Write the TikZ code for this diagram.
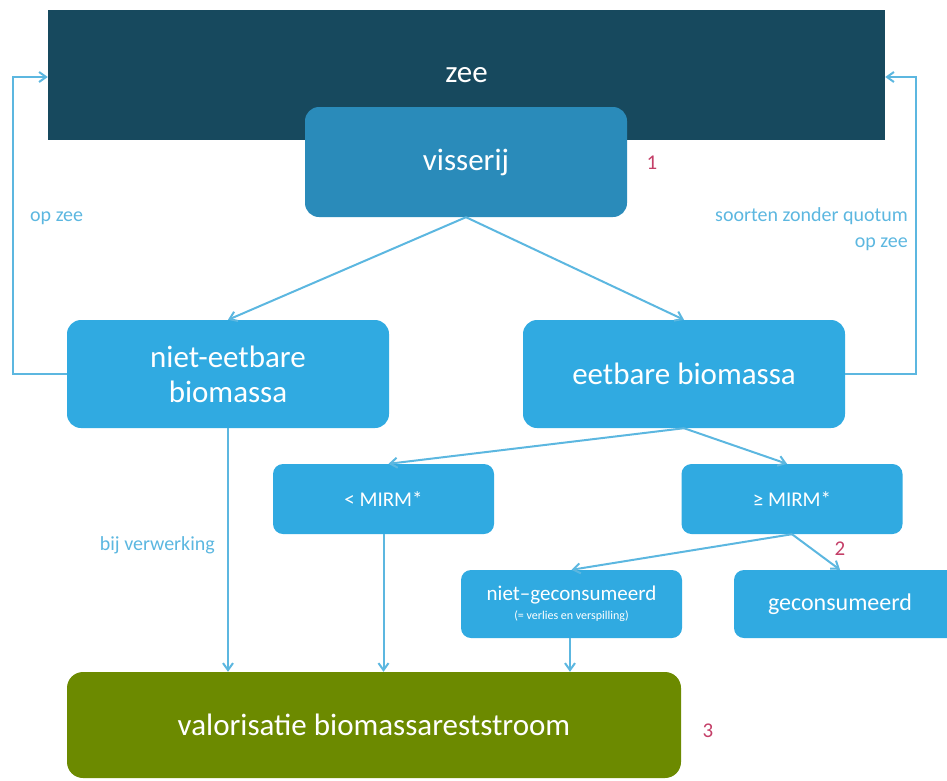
\documentclass[tikz,border=0pt]{standalone}
\usepackage{fontspec}
\setmainfont{Carlito}
\usetikzlibrary{shapes,arrows.meta,positioning}
\definecolor{zeeblauw}{HTML}{17495E}
\definecolor{visblauw}{HTML}{2A8BBA}
\definecolor{lichtblauw}{HTML}{30AAE1}
\definecolor{lijnblauw}{HTML}{5CB7E0}
\definecolor{olijf}{HTML}{6C8A00}
\definecolor{nummerrood}{HTML}{C43F68}

\begin{document}
\begin{tikzpicture}[x=1pt,y=-1pt,
  blok/.style={rectangle,rounded corners=14pt,fill=lichtblauw,text=white,inner sep=0pt,
    minimum width=322pt,minimum height=108pt,align=center,font=\fontsize{31}{35}\selectfont},
  klein/.style={blok,rounded corners=10pt,minimum width=221pt,minimum height=70pt,
    font=\fontsize{21}{24}\selectfont},
  pijl/.style={draw=lijnblauw,line width=2pt,-{Straight Barb[length=7pt,width=10pt]}},
  lijntekst/.style={text=lijnblauw,font=\fontsize{20}{26}\selectfont,inner sep=0pt},
  nummer/.style={text=nummerrood,font=\fontsize{21}{24}\selectfont,inner sep=0pt}]
\clip (0,0) rectangle (947,780);
% Zee en visserij
\node[rectangle,fill=zeeblauw,text=white,minimum width=837pt,minimum height=130pt,
  inner sep=0pt,font=\fontsize{31}{35}\selectfont] (zee) at (466.5,75) {zee};
\node[blok,fill=visblauw,minimum height=110pt] (visserij) at (466,162) {visserij};
\node[nummer] (een) at (652,163) {1};
% Biomassa
\node[blok] (nieteetbaar) at (228,374) {niet-eetbare\\biomassa};
\node[blok] (eetbaar) at (684,374) {eetbare biomassa};
\node[klein] (onder) at (383.5,499) {< MIRM*};
\node[klein] (boven) at (792,499) {≥ MIRM*};
\node[klein,minimum height=68pt] (nietgecons) at (571.5,604)
  {niet–geconsumeerd\\[-5pt]{\fontsize{12}{14}\selectfont (= verlies en verspilling)}};
\node[klein,minimum width=230pt,minimum height=68pt,font=\fontsize{24}{28}\selectfont]
  (gecons) at (849,604) {\hspace*{-18pt}geconsumeerd};
\node[nummer] (twee) at (840,549) {2};
% Valorisatie
\node[blok,fill=olijf,rounded corners=16pt,minimum width=614pt,minimum height=106pt]
  (valor) at (374,725) {valorisatie biomassareststroom};
\node[nummer] (drie) at (708,731) {3};
% Pijlen
\draw[pijl] (visserij.south) -- (nieteetbaar.north);
\draw[pijl] (visserij.south) -- (eetbaar.north);
\draw[pijl] (eetbaar.south) -- ([xshift=5pt]onder.north);
\draw[pijl] (eetbaar.south) -- ([xshift=-5pt]boven.north);
\draw[pijl] (boven.south) -- (nietgecons.north);
\draw[pijl] (boven.south) -- ([xshift=-9pt]gecons.north);
\draw[pijl] (nieteetbaar.south) -- (nieteetbaar.south |- valor.north);
\draw[pijl] (onder.south) -- (onder.south |- valor.north);
\draw[pijl] ([xshift=-1.5pt]nietgecons.south) -- ([xshift=-1.5pt]nietgecons.south |- valor.north);
\draw[pijl] (nieteetbaar.west) -- ++(-54,0) |- ([yshift=-2pt]zee.west);
\draw[pijl] (eetbaar.east) -- ++(71,0) |- ([yshift=-2pt]zee.east);
% Labels
\node[lijntekst,anchor=west] (opzee) at (30,218) {op zee};
\node[lijntekst,anchor=east,align=right] (quotum) at (908,229) {soorten zonder quotum\\op zee};
\node[lijntekst,anchor=east] (verwerking) at (215,545) {bij verwerking};
\end{tikzpicture}
\end{document}
